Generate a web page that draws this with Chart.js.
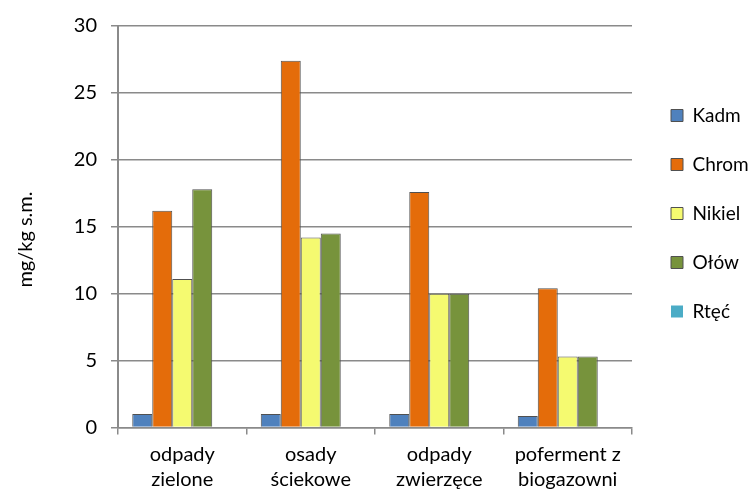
<!DOCTYPE html>
<html lang="pl">
<head>
<meta charset="utf-8">
<title>Metale ciężkie w odpadach</title>
<script src="https://cdn.jsdelivr.net/npm/chart.js@4/dist/chart.umd.min.js"></script>
<style>
  html, body { margin: 0; padding: 0; background: #ffffff; }
  #wrap { width: 749px; height: 492px; position: relative; }
</style>
</head>
<body>
<div id="wrap"><canvas id="chart" width="749" height="492"></canvas></div>
<script>
// Categories (two-line labels) and heavy-metal content per series, mg/kg s.m.
const categories = [
  ['odpady', 'zielone'],
  ['osady', 'ściekowe'],
  ['odpady', 'zwierzęce'],
  ['poferment z', 'biogazowni']
];
const kadm   = [1.0, 1.0, 1.0, 0.85];
const chrom  = [16.2, 27.4, 17.6, 10.4];
const nikiel = [11.1, 14.2, 10.0, 5.3];
const olow   = [17.8, 14.5, 10.0, 5.3];
const rtec   = [0.05, 0.05, 0, 0];

const yTicks = [0, 5, 10, 15, 20, 25, 30];
const yTitle = 'mg/kg s.m.';

const FONT = 'Lato, "Open Sans", "DejaVu Sans", sans-serif';
const GRID = '#8a8a8a';
const EDGE = '#505050';

function series(label, data, color, border) {
  return {
    label, data,
    backgroundColor: color,
    borderColor: EDGE,
    borderWidth: border,
    borderSkipped: 'bottom',
    categoryPercentage: 0.778,
    barPercentage: 1.0
  };
}

// Fixes the legend column to the right of the plot area.
const legendPlacement = {
  id: 'legendPlacement',
  beforeLayout(chart) {
    const lg = chart.legend;
    if (lg && !lg._fixedFit) {
      const fit = lg.fit.bind(lg);
      lg.fit = function () { fit(); this.width = 117; };
      lg._fixedFit = true;
    }
  },
  afterLayout(chart) {
    const lg = chart.legend;
    if (!lg) return;
    lg.left = 641; lg.right = 749; lg.width = 108;
    lg.top = 76; lg.bottom = 492; lg.height = 416;
  }
};

new Chart(document.getElementById('chart'), {
  type: 'bar',
  data: {
    labels: categories,
    datasets: [
      series('Kadm', kadm, '#4f81bd', 1),
      series('Chrom', chrom, '#e46c0a', 1),
      series('Nikiel', nikiel, '#f5fa70', 1),
      series('Ołów', olow, '#77933c', 1),
      series('Rtęć', rtec, '#4bacc6', 0)
    ]
  },
  options: {
    responsive: false,
    animation: false,
    devicePixelRatio: 1,
    layout: { padding: { top: 22, left: 0, right: 0, bottom: 0 } },
    plugins: {
      tooltip: { enabled: false },
      legend: {
        position: 'right',
        align: 'start',
        labels: {
          color: '#000000',
          font: { family: FONT, size: 19 },
          boxWidth: 12,
          boxHeight: 12,
          padding: 30,
          generateLabels(chart) {
            return chart.data.datasets.map((ds, i) => ({
              text: ds.label,
              fillStyle: ds.backgroundColor,
              strokeStyle: ds.borderWidth ? EDGE : ds.backgroundColor,
              lineWidth: ds.borderWidth ? 1 : 0,
              fontColor: '#000000',
              hidden: false,
              datasetIndex: i
            }));
          }
        }
      }
    },
    scales: {
      x: {
        offset: true,
        grid: {
          display: true,
          offset: true,
          drawOnChartArea: false,
          drawTicks: true,
          tickLength: 7,
          color: GRID,
          lineWidth: 1.5
        },
        border: { display: true, color: GRID, width: 1.5 },
        ticks: {
          color: '#000000',
          font: { family: FONT, size: 20, lineHeight: 1.25 },
          padding: 8,
          maxRotation: 0,
          autoSkip: false
        },
        afterFit(scale) { scale.height = 64.5; }
      },
      y: {
        min: 0,
        max: 30,
        afterBuildTicks(scale) { scale.ticks = yTicks.map(v => ({ value: v })); },
        grid: {
          color: GRID,
          lineWidth: 1.5,
          drawTicks: true,
          tickLength: 7
        },
        border: { display: true, color: GRID, width: 2 },
        ticks: {
          color: '#000000',
          font: { family: FONT, size: 20 },
          padding: 14
        },
        title: {
          display: true,
          text: yTitle + '     ',
          color: '#000000',
          font: { family: FONT, size: 20 },
          padding: { top: 14, bottom: 0 }
        },
        afterFit(scale) { scale.width = 118; }
      }
    }
  },
  plugins: [legendPlacement]
});
</script>
</body>
</html>
